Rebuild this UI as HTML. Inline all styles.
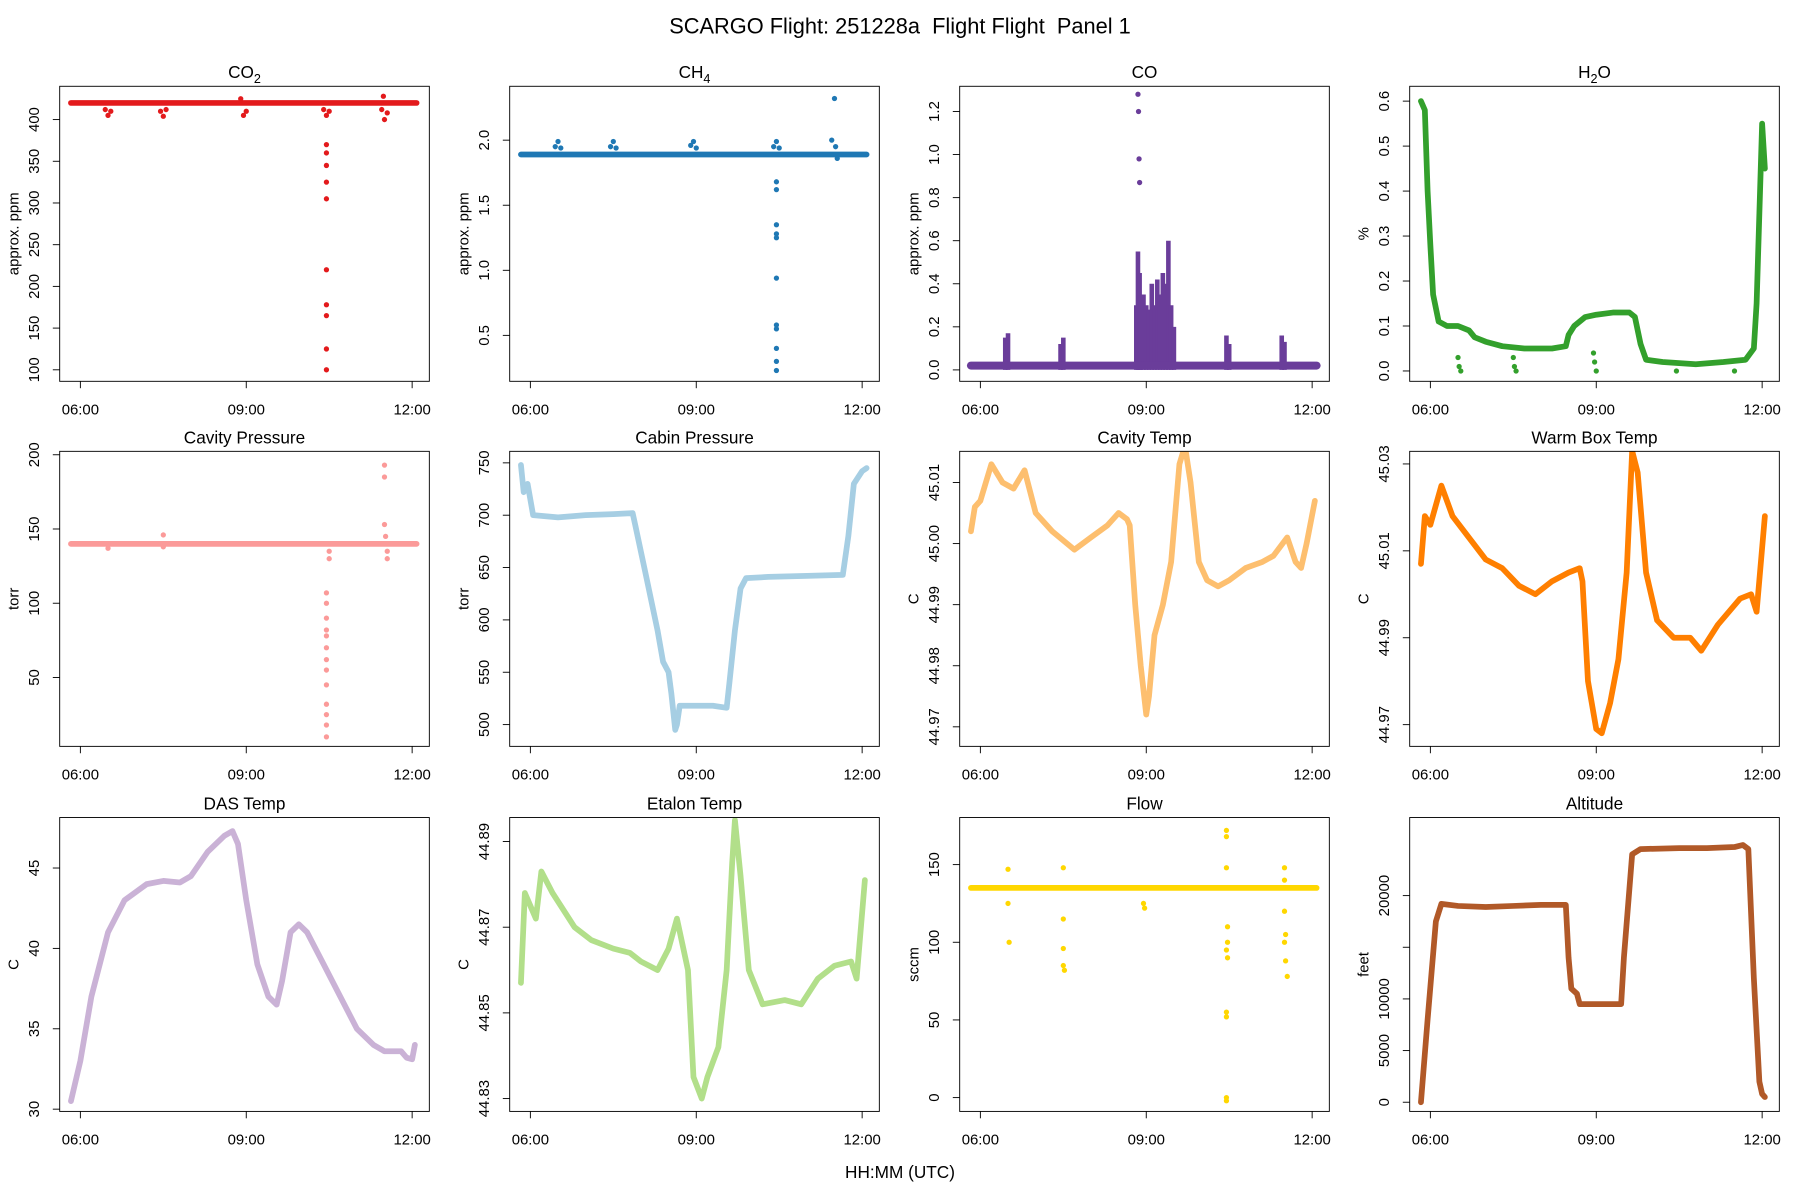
<!DOCTYPE html>
<html><head><meta charset="utf-8"><style>
html,body{margin:0;padding:0;background:#fff;}
svg{display:block;font-family:"Liberation Sans",sans-serif;}
</style></head><body>
<svg id="chart" width="1800" height="1200" viewBox="0 0 1568 1045" xmlns="http://www.w3.org/2000/svg">
<rect width="1568" height="1045" fill="#fff"/>
<text x="784" y="29" text-anchor="middle" font-size="19" style="white-space:pre">SCARGO Flight: 251228a  Flight Flight  Panel 1</text>
<text x="784" y="1026" text-anchor="middle" font-size="15">HH:MM (UTC)</text>
</svg>
<script>
// ---- data (time in hours UTC) ----
const xTickHours=[6,9,12];
const xTickLabels=["06:00","09:00","12:00"];

const co2LineT=[5.83,12.08];
const co2LineV=[420,420];
const co2PtsT=[6.45,6.5,6.55,7.45,7.5,7.55,8.9,8.95,9.0,10.4,10.45,10.45,10.45,10.45,10.45,10.45,10.45,10.45,10.45,10.45,10.45,10.5,11.45,11.5,11.55,11.48];
const co2PtsV=[412,405,410,410,404,412,425,405,410,412,370,360,345,325,305,220,178,165,125,100,405,410,412,400,408,428];

const ch4LineT=[5.83,12.08];
const ch4LineV=[1.89,1.89];
const ch4PtsT=[6.45,6.5,6.55,7.45,7.5,7.55,8.9,8.95,9.0,10.4,10.45,10.5,10.45,10.45,10.45,10.45,10.45,10.45,10.45,10.45,10.45,10.45,10.45,11.45,11.5,11.52,11.55];
const ch4PtsV=[1.95,1.99,1.94,1.95,1.99,1.94,1.96,1.99,1.94,1.95,1.99,1.94,1.68,1.62,1.35,1.28,1.25,0.94,0.58,0.55,0.4,0.3,0.23,2.0,2.32,1.95,1.86];

const coBaseT=[5.83,12.08];
const coBaseV=[0.02,0.02];
const coSpikeT=[6.45,6.5,7.45,7.5,8.82,8.85,8.88,8.9,8.95,9.0,9.05,9.1,9.15,9.2,9.25,9.3,9.35,9.4,9.45,9.5,10.45,10.5,11.45,11.5];
const coSpikeV=[0.15,0.17,0.12,0.15,0.3,0.55,0.45,0.35,0.35,0.3,0.28,0.4,0.3,0.42,0.35,0.45,0.4,0.6,0.3,0.2,0.16,0.12,0.16,0.13];
const coPtsT=[8.85,8.86,8.87,8.88];
const coPtsV=[1.28,1.2,0.98,0.87];

const h2oT=[5.83,5.9,5.95,6.0,6.05,6.15,6.3,6.5,6.7,6.8,7.0,7.3,7.7,8.2,8.45,8.5,8.6,8.8,9.0,9.3,9.6,9.7,9.8,9.9,10.2,10.8,11.3,11.7,11.85,11.9,11.95,12.0,12.05];
const h2oV=[0.6,0.58,0.4,0.28,0.17,0.11,0.1,0.1,0.09,0.075,0.065,0.055,0.05,0.05,0.055,0.08,0.1,0.12,0.125,0.13,0.13,0.12,0.06,0.025,0.02,0.015,0.02,0.025,0.05,0.15,0.35,0.55,0.45];
const h2oPtsT=[6.5,6.52,6.55,7.5,7.52,7.55,8.95,8.97,9.0,10.45,11.5];
const h2oPtsV=[0.03,0.01,0.0,0.03,0.01,0.0,0.04,0.02,0.0,0.0,0.0];

const cavpLineT=[5.83,12.08];
const cavpLineV=[140,140];
const cavpPtsT=[6.5,7.5,7.5,10.45,10.45,10.45,10.45,10.45,10.45,10.45,10.45,10.45,10.45,10.45,10.45,10.45,10.5,10.5,11.5,11.5,11.5,11.52,11.55,11.55];
const cavpPtsV=[137,146,138,107,100,90,82,78,70,62,55,45,32,25,18,10,135,130,193,185,153,145,135,130];

const cabinT=[5.83,5.88,5.95,6.05,6.5,7.0,7.5,7.85,7.9,8.1,8.3,8.4,8.5,8.55,8.62,8.65,8.7,9.0,9.3,9.55,9.6,9.7,9.8,9.9,10.3,11.0,11.65,11.75,11.85,12.0,12.08];
const cabinV=[748,722,730,700,698,700,701,702,690,640,590,560,550,530,495,500,518,518,518,516,540,590,630,640,641,642,643,680,730,742,745];

const cavtT=[5.83,5.9,6.0,6.1,6.2,6.4,6.6,6.8,7.0,7.3,7.7,8.0,8.3,8.5,8.65,8.7,8.8,8.9,9.0,9.05,9.15,9.3,9.45,9.6,9.7,9.8,9.95,10.1,10.3,10.5,10.8,11.1,11.3,11.55,11.7,11.8,11.9,12.05];
const cavtV=[45.002,45.006,45.007,45.01,45.013,45.01,45.009,45.012,45.005,45.002,44.999,45.001,45.003,45.005,45.004,45.003,44.99,44.98,44.972,44.975,44.985,44.99,44.997,45.013,45.016,45.01,44.997,44.994,44.993,44.994,44.996,44.997,44.998,45.001,44.997,44.996,45.0,45.007];

const wbT=[5.83,5.9,6.0,6.2,6.4,6.7,7.0,7.3,7.6,7.9,8.2,8.5,8.7,8.75,8.85,9.0,9.1,9.25,9.4,9.55,9.65,9.75,9.9,10.1,10.4,10.7,10.9,11.2,11.6,11.8,11.9,12.05];
const wbV=[45.007,45.018,45.016,45.025,45.018,45.013,45.008,45.006,45.002,45.0,45.003,45.005,45.006,45.003,44.98,44.969,44.968,44.975,44.985,45.005,45.033,45.028,45.005,44.994,44.99,44.99,44.987,44.993,44.999,45.0,44.996,45.018];

const dasT=[5.83,6.0,6.2,6.5,6.8,7.2,7.5,7.8,8.0,8.3,8.6,8.75,8.85,9.0,9.2,9.4,9.55,9.65,9.8,9.95,10.1,10.4,10.7,11.0,11.3,11.5,11.8,11.9,12.0,12.05];
const dasV=[30.5,33,37,41,43,44,44.2,44.1,44.5,46,47,47.3,46.5,43,39,37,36.5,38,41,41.5,41,39,37,35,34,33.6,33.6,33.2,33.1,34];

const etT=[5.83,5.9,6.0,6.1,6.2,6.4,6.6,6.8,7.1,7.5,7.8,8.0,8.3,8.5,8.65,8.75,8.85,8.95,9.1,9.2,9.4,9.55,9.65,9.7,9.8,9.95,10.2,10.6,10.9,11.2,11.5,11.8,11.9,12.05];
const etV=[44.857,44.878,44.875,44.872,44.883,44.878,44.874,44.87,44.867,44.865,44.864,44.862,44.86,44.865,44.872,44.866,44.86,44.835,44.83,44.835,44.842,44.86,44.885,44.895,44.882,44.86,44.852,44.853,44.852,44.858,44.861,44.862,44.858,44.881];

const flowLineT=[5.83,12.08];
const flowLineV=[135,135];
const flowPtsT=[6.5,6.5,6.52,7.5,7.5,7.5,7.5,7.52,8.95,8.97,10.45,10.45,10.45,10.47,10.47,10.45,10.47,10.45,10.45,10.45,10.45,11.5,11.5,11.5,11.52,11.5,11.52,11.55];
const flowPtsV=[147,125,100,148,115,96,85,82,125,122,172,168,148,110,100,95,90,55,52,0,-2,148,140,120,105,100,88,78];

const altT=[5.83,5.95,6.1,6.2,6.5,7.0,7.5,8.0,8.45,8.5,8.55,8.65,8.7,9.0,9.45,9.5,9.65,9.8,10.5,11.0,11.5,11.65,11.75,11.85,11.95,12.0,12.05];
const altV=[0,8000,17500,19200,19000,18900,19000,19100,19100,14000,11000,10500,9500,9500,9500,14000,24000,24500,24600,24600,24700,24900,24500,12000,2000,800,500];

const panels=[
 {name:"co2",title:"CO",sub:"2",ylab:"approx. ppm",color:"#e31a1c",ylim:[86.2,439.9],ticks:[100,150,200,250,300,350,400],labels:null,line:[co2LineT,co2LineV],pts:[co2PtsT,co2PtsV]},
 {name:"ch4",title:"CH",sub:"4",ylab:"approx. ppm",color:"#1f78b4",ylim:[0.147,2.414],ticks:[0.5,1.0,1.5,2.0],labels:["0.5","1.0","1.5","2.0"],line:[ch4LineT,ch4LineV],pts:[ch4PtsT,ch4PtsV]},
 {name:"co",title:"CO",sub:"",ylab:"approx. ppm",color:"#6a3d9a",ylim:[-0.053,1.317],ticks:[0,0.2,0.4,0.6,0.8,1.0,1.2],labels:["0.0","0.2","0.4","0.6","0.8","1.0","1.2"],line:[coBaseT,coBaseV],pts:[coPtsT,coPtsV],spikes:[coSpikeT,coSpikeV]},
 {name:"h2o",title:"H",sub:"2",post:"O",ylab:"%",color:"#33a02c",ylim:[-0.023,0.633],ticks:[0,0.1,0.2,0.3,0.4,0.5,0.6],labels:["0.0","0.1","0.2","0.3","0.4","0.5","0.6"],line:[h2oT,h2oV],pts:[h2oPtsT,h2oPtsV]},
 {name:"cavity-pressure",title:"Cavity Pressure",ylab:"torr",color:"#fb9a99",ylim:[3.6,202.3],ticks:[50,100,150,200],labels:null,line:[cavpLineT,cavpLineV],pts:[cavpPtsT,cavpPtsV]},
 {name:"cabin-pressure",title:"Cabin Pressure",ylab:"torr",color:"#a6cee3",ylim:[479.2,761],ticks:[500,550,600,650,700,750],labels:null,line:[cabinT,cabinV]},
 {name:"cavity-temp",title:"Cavity Temp",ylab:"C",color:"#fdbf6f",ylim:[44.9668,45.0151],ticks:[44.97,44.98,44.99,45.00,45.01],labels:["44.97","44.98","44.99","45.00","45.01"],line:[cavtT,cavtV]},
 {name:"warm-box-temp",title:"Warm Box Temp",ylab:"C",color:"#ff7f00",ylim:[44.965,45.0329],ticks:[44.97,44.99,45.01,45.03],labels:["44.97","44.99","45.01","45.03"],line:[wbT,wbV]},
 {name:"das-temp",title:"DAS Temp",ylab:"C",color:"#cab2d6",ylim:[29.86,48.14],ticks:[30,35,40,45],labels:null,line:[dasT,dasV]},
 {name:"etalon-temp",title:"Etalon Temp",ylab:"C",color:"#b2df8a",ylim:[44.827,44.8956],ticks:[44.83,44.85,44.87,44.89],labels:["44.83","44.85","44.87","44.89"],line:[etT,etV]},
 {name:"flow",title:"Flow",ylab:"sccm",color:"#ffd700",ylim:[-8.9,180.3],ticks:[0,50,100,150],labels:null,line:[flowLineT,flowLineV],pts:[flowPtsT,flowPtsV]},
 {name:"altitude",title:"Altitude",ylab:"feet",color:"#b15928",ylim:[-889,27556],ticks:[0,5000,10000,15000,20000],labels:["0","5000","10000","","20000"],line:[altT,altV]}
];

const NS="http://www.w3.org/2000/svg";
const svg=document.getElementById('chart');
function mk(tag,attrs,parent){const e=document.createElementNS(NS,tag);for(const k in attrs)e.setAttribute(k,attrs[k]);(parent||svg).appendChild(e);return e;}
const rowTop=[75,393,712],rowH=[257,257,256],W=322;
const xlim=[5.626,12.311];
panels.forEach((p,i)=>{
  const col=i%4,row=Math.floor(i/4);
  const L=52+392*col,T=rowTop[row],H=rowH[row];
  const g=mk('g',{});
  
  
  const xs=h=>L+(h-xlim[0])/(xlim[1]-xlim[0])*W;
  const ys=v=>T+H-(v-p.ylim[0])/(p.ylim[1]-p.ylim[0])*H;
  const cid='clip'+i;
  const cp=mk('clipPath',{id:cid},g);mk('rect',{x:L,y:T,width:W,height:H},cp);
  const dg=mk('g',{'clip-path':'url(#'+cid+')'},g);
  
  
  if(p.spikes){
    p.spikes[0].forEach((t,k)=>{
      const s=mk('line',{x1:xs(t),x2:xs(t),y1:ys(0),y2:ys(p.spikes[1][k]),stroke:p.color,'stroke-width':4},dg);
      
      
    });
  }
  const pts=p.line[0].map((t,k)=>xs(t).toFixed(1)+','+ys(p.line[1][k]).toFixed(1)).join(' ');
  const pl=mk('polyline',{points:pts,fill:'none',stroke:p.color,'stroke-width':p.spikes?7:5,'stroke-linejoin':'round','stroke-linecap':'round'},dg);
  
  
  if(p.pts){
    p.pts[0].forEach((t,k)=>{
      const c=mk('circle',{cx:xs(t),cy:ys(p.pts[1][k]),r:2.3,fill:p.color},dg);
      
      
    });
  }
  const box=mk('rect',{x:L,y:T,width:W,height:H,fill:'none',stroke:'#000','stroke-width':0.8},g);
  
  
  const tt=mk('text',{x:L+W/2,y:T-7,'text-anchor':'middle','font-size':15},g);
  
  
  tt.appendChild(document.createTextNode(p.title));
  if(p.sub){const s=mk('tspan',{'font-size':11,dy:4},tt);s.textContent=p.sub;}
  if(p.post){const s=mk('tspan',{dy:-4},tt);s.textContent=p.post;}
  xTickHours.forEach((h,k)=>{
    mk('line',{x1:xs(h),x2:xs(h),y1:T+H,y2:T+H+6,stroke:'#000','stroke-width':0.8},g);
    const tl=mk('text',{x:xs(h),y:T+H+29,'text-anchor':'middle','font-size':13},g);
    
    
    tl.textContent=xTickLabels[k];
  });
  p.ticks.forEach((v,k)=>{
    const y=ys(v);
    mk('line',{x1:L-6,x2:L,y1:y,y2:y,stroke:'#000','stroke-width':0.8},g);
    const lab=p.labels?p.labels[k]:String(v);
    if(lab!==''){
      const tl=mk('text',{x:L-18,y:y,'text-anchor':'middle','font-size':13,transform:'rotate(-90 '+(L-18)+' '+y+')'},g);
      
      
      tl.textContent=lab;
    }
  });
  const yc=T+H/2,yx=L-36;
  const yl=mk('text',{x:yx,y:yc,'text-anchor':'middle','font-size':13,transform:'rotate(-90 '+yx+' '+yc+')'},g);
  
  
  yl.textContent=p.ylab;
});
</script>
</body></html>
